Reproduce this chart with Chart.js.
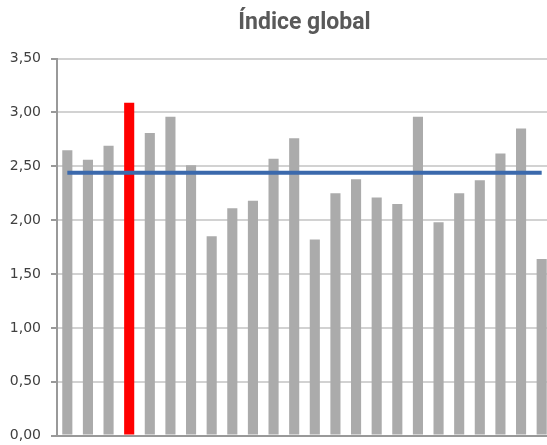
<!DOCTYPE html>
<html>
<head>
<meta charset="utf-8">
<script src="https://cdn.jsdelivr.net/npm/chart.js"></script>
<style>
  html, body { margin: 0; padding: 0; background: #fff; overflow: hidden; }
  #wrap { width: 547px; height: 445px; overflow: hidden; }
</style>
</head>
<body>
<div id="wrap">
  <canvas id="chart" width="552" height="454"></canvas>
</div>
<script>
// 24 unnamed categories (no x labels in the original)
const categories = ['1','2','3','4','5','6','7','8','9','10','11','12','13','14','15','16','17','18','19','20','21','22','23','24']

const indexValues = [2.65, 2.56, 2.69, 3.09, 2.81, 2.96, 2.51, 1.85, 2.11, 2.18, 2.57, 2.76,
                     1.82, 2.25, 2.38, 2.21, 2.15, 2.96, 1.98, 2.25, 2.37, 2.62, 2.85, 1.64]

// average line
const averageValues = [2.44, 2.44, 2.44, 2.44, 2.44, 2.44, 2.44, 2.44, 2.44, 2.44, 2.44, 2.44,
                       2.44, 2.44, 2.44, 2.44, 2.44, 2.44, 2.44, 2.44, 2.44, 2.44, 2.44, 2.44]

const highlighted = 3   // the red bar

const yTicks = [0, 0.5, 1, 1.5, 2, 2.5, 3, 3.5]

const barColors = indexValues.map((v, i) => i === highlighted ? '#FF0000' : '#ABABAB')

new Chart(document.getElementById('chart'), {
    type: 'bar',
    data: {
        labels: categories,
        datasets: [
            {
                type: 'line',
                label: 'Media',
                data: averageValues,
                borderColor: '#3B69AC',
                borderWidth: 4,
                pointRadius: 0,
                fill: false,
                order: 0
            },
            {
                label: 'Índice global',
                data: indexValues,
                backgroundColor: barColors,
                borderWidth: 0,
                barPercentage: 0.49,
                categoryPercentage: 1,
                order: 1
            }
        ]
    },
    options: {
        responsive: false,
        animation: false,
        devicePixelRatio: 1,
        layout: { padding: { left: 0, right: 0, top: 0, bottom: 1 } },
        plugins: {
            legend: { display: false },
            tooltip: { enabled: false },
            title: {
                display: true,
                text: 'Índice global',
                fullSize: false,
                color: '#595959',
                font: { family: 'Roboto', size: 23, weight: 'bold', lineHeight: 1.2 },
                padding: { top: 9, bottom: 22 }
            }
        },
        scales: {
            x: {
                ticks: { display: false },
                grid: { display: false },
                border: { display: true, color: '#999999', width: 2 }
            },
            y: {
                min: 0,
                max: 3.5,
                afterBuildTicks: axis => { axis.ticks = yTicks.map(v => ({ value: v })) },
                afterFit: axis => { axis.width = 57 },
                ticks: {
                    padding: 10,
                    color: '#404040',
                    font: { family: 'DejaVu Sans', size: 14 },
                    callback: v => v.toFixed(2).replace('.', ',')
                },
                grid: {
                    color: '#D2D2D2',
                    lineWidth: 2,
                    tickLength: 6,
                    tickColor: '#999999'
                },
                border: { display: true, color: '#999999', width: 2 }
            }
        }
    }
})
</script>
</body>
</html>
